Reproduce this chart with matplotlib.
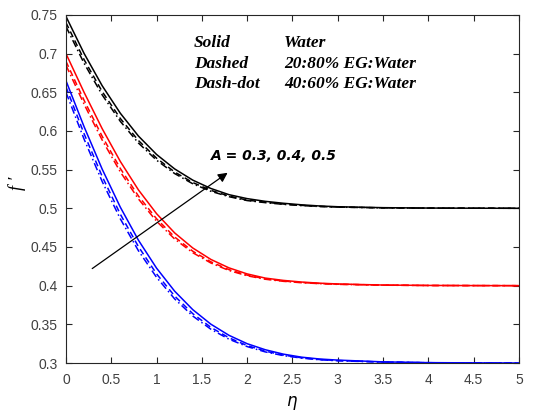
import matplotlib
matplotlib.use("Agg")
import matplotlib.pyplot as plt

eta = [0, 0.2, 0.4, 0.6, 0.8, 1.0, 1.2, 1.4, 1.6, 1.8, 2.0, 2.2, 2.4, 2.6, 2.8, 3.0, 3.5, 4.0, 4.5, 5.0]

# A = 0.5 (black)
black_solid = [0.748, 0.7002, 0.6584, 0.6229, 0.5934, 0.5696, 0.5509, 0.5364, 0.5256, 0.5176, 0.5125,
               0.5090, 0.5065, 0.5045, 0.5030, 0.5020, 0.5008, 0.5003, 0.5001, 0.5000]
black_dashed = [0.740, 0.6922, 0.6509, 0.6161, 0.5876, 0.5648, 0.5469, 0.5333, 0.5232, 0.5158, 0.5106,
                0.5078, 0.5055, 0.5038, 0.5025, 0.5016, 0.5006, 0.5002, 0.5001, 0.5000]
black_dashdot = [0.735, 0.6875, 0.6466, 0.6124, 0.5844, 0.5622, 0.5449, 0.5317, 0.5220, 0.5150, 0.5100,
                 0.5073, 0.5051, 0.5035, 0.5023, 0.5015, 0.5005, 0.5002, 0.5001, 0.5000]
# A = 0.4 (red)
red_solid = [0.700, 0.6499, 0.6029, 0.5606, 0.5238, 0.4931, 0.4682, 0.4487, 0.4339, 0.4230, 0.4152,
             0.4098, 0.4068, 0.4047, 0.4032, 0.4022, 0.4008, 0.4003, 0.4001, 0.4000]
red_dashed = [0.690, 0.6396, 0.5930, 0.5515, 0.5159, 0.4865, 0.4629, 0.4445, 0.4308, 0.4207, 0.4136,
              0.4088, 0.4060, 0.4041, 0.4028, 0.4019, 0.4007, 0.4002, 0.4001, 0.4000]
red_dashdot = [0.685, 0.6346, 0.5882, 0.5471, 0.5121, 0.4833, 0.4603, 0.4426, 0.4293, 0.4196, 0.4128,
               0.4083, 0.4056, 0.4038, 0.4026, 0.4017, 0.4006, 0.4002, 0.4001, 0.4000]
# A = 0.3 (blue)
blue_solid = [0.665, 0.6055, 0.5506, 0.5015, 0.4588, 0.4227, 0.3929, 0.3690, 0.3502, 0.3358, 0.3250,
              0.3172, 0.3115, 0.3076, 0.3052, 0.3038, 0.3015, 0.3005, 0.3002, 0.3000]
blue_dashed = [0.657, 0.5964, 0.5412, 0.4924, 0.4505, 0.4153, 0.3866, 0.3638, 0.3461, 0.3326, 0.3226,
               0.3154, 0.3102, 0.3068, 0.3045, 0.3032, 0.3013, 0.3004, 0.3001, 0.3000]
blue_dashdot = [0.650, 0.5894, 0.5346, 0.4864, 0.4452, 0.4108, 0.3829, 0.3608, 0.3437, 0.3308, 0.3213,
                0.3144, 0.3096, 0.3064, 0.3042, 0.3029, 0.3012, 0.3004, 0.3001, 0.3000]

x_ticks = [0, 0.5, 1, 1.5, 2, 2.5, 3, 3.5, 4, 4.5, 5]
x_tick_labels = ["0", "0.5", "1", "1.5", "2", "2.5", "3", "3.5", "4", "4.5", "5"]
y_ticks = [0.3, 0.35, 0.4, 0.45, 0.5, 0.55, 0.6, 0.65, 0.7, 0.75]
y_tick_labels = ["0.3", "0.35", "0.4", "0.45", "0.5", "0.55", "0.6", "0.65", "0.7", "0.75"]

legend_styles = ["Solid", "Dashed", "Dash-dot"]
legend_fluids = ["Water", "20:80% EG:Water", "40:60% EG:Water"]
annotation = "A = 0.3, 0.4, 0.5"

fig = plt.figure(figsize=(5.45, 4.13), dpi=100)
ax = fig.add_axes([0.121, 0.121, 0.831, 0.843])

lw = 1.1
groups = [
    ("blue", blue_solid, blue_dashed, blue_dashdot),
    ("red", red_solid, red_dashed, red_dashdot),
    ("black", black_solid, black_dashed, black_dashdot),
]
for color, s, d, dd in groups:
    ax.plot(eta, s, color=color, linestyle="-", linewidth=lw)
    ax.plot(eta, d, color=color, linestyle=(0, (4, 2.5)), linewidth=lw)
    ax.plot(eta, dd, color=color, linestyle=(0, (5, 2, 1, 2)), linewidth=lw)

ax.set_xlim(0, 5)
ax.set_ylim(0.3, 0.75)
ax.set_xticks(x_ticks)
ax.set_xticklabels(x_tick_labels)
ax.set_yticks(y_ticks)
ax.set_yticklabels(y_tick_labels)
axcol = "#262626"
ax.tick_params(direction="in", top=True, right=True, length=4, width=0.8,
               colors=axcol, labelcolor="#404040", labelsize=10)
ax.tick_params(axis="x", pad=7)
ax.tick_params(axis="y", pad=6)
for lab in ax.get_xticklabels() + ax.get_yticklabels():
    lab.set_family(["Liberation Sans", "DejaVu Sans"])
for sp in ax.spines.values():
    sp.set_color(axcol)
    sp.set_linewidth(0.8)

ax.set_xlabel(r"$\eta$", fontsize=12, family="DejaVu Serif")
ax.xaxis.set_label_coords(0.5, -0.09)
ax.set_ylabel("f \u2032", fontsize=13, fontstyle="italic", family=["Liberation Serif", "DejaVu Serif"])
ax.yaxis.set_label_coords(-0.088, 0.515)

serif = ["Liberation Serif", "DejaVu Serif"]
ys = [0.713, 0.687, 0.660]
for st, fl, yv in zip(legend_styles, legend_fluids, ys):
    ax.text(1.413, yv, st, fontsize=12.5, fontweight="bold", fontstyle="italic", family=serif, va="center")
    ax.text(2.406, yv, fl, fontsize=12.5, fontweight="bold", fontstyle="italic", family=serif, va="center")

ax.annotate("", xy=(1.81, 0.548), xytext=(0.265, 0.42),
            arrowprops=dict(arrowstyle="-|>", color="black", lw=0.9, mutation_scale=14))
ax.text(1.6, 0.567, annotation, fontsize=10, fontweight="bold", fontstyle="italic",
        family=["DejaVu Sans"], va="center")

fig.savefig("out.png", dpi=100)
